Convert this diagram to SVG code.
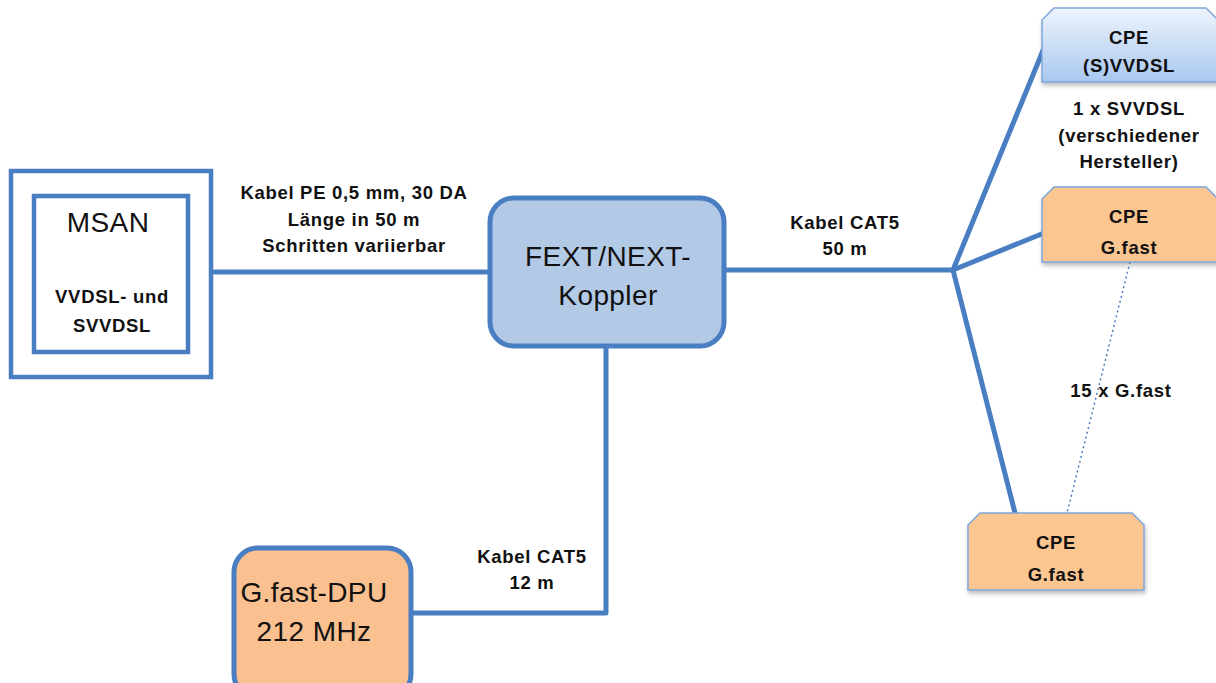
<svg xmlns="http://www.w3.org/2000/svg" width="1216" height="683" viewBox="0 0 1216 683">
<defs>
<linearGradient id="gBlue" x1="0" y1="0" x2="0" y2="1">
<stop offset="0" stop-color="#eef4fc"/>
<stop offset="1" stop-color="#a9c8ef"/>
</linearGradient>
<filter id="sh" x="-10%" y="-10%" width="130%" height="130%">
<feDropShadow dx="1" dy="3" stdDeviation="2" flood-color="#000" flood-opacity="0.25"/>
</filter>
</defs>
<style>
.wire{stroke:#4a7ec3;stroke-width:5;fill:none;stroke-linecap:round;stroke-linejoin:round}
.dot{stroke:#4a7ec3;stroke-width:1.5;fill:none;stroke-dasharray:2 3}
.frame{fill:#fff;stroke:#4a7ec3;stroke-width:4.5}
.t{font-family:"Liberation Sans",Arial,sans-serif;fill:#111;text-anchor:middle}
.b{font-weight:bold;font-size:18.5px;letter-spacing:0.7px}
.big{font-size:28px;letter-spacing:0.4px}
.cpe{stroke:#7ea7db;stroke-width:1.5}
</style>
<g id="connectors">
<line class="wire" x1="211" y1="272" x2="490" y2="272"/>
<line class="wire" x1="724" y1="270" x2="953" y2="270"/>
<line class="wire" x1="953" y1="270" x2="1044" y2="48"/>
<line class="wire" x1="953" y1="270" x2="1044" y2="233"/>
<line class="wire" x1="953" y1="270" x2="1015" y2="513"/>
<polyline class="wire" points="606,346 606,613 411,613"/>
<line class="dot" x1="1130" y1="262" x2="1067" y2="513"/>
</g>
<g id="msan">
<rect class="frame" x="11" y="171" width="200" height="206"/>
<rect class="frame" x="34" y="196" width="154" height="156"/>
<text class="t big" x="108" y="232">MSAN</text>
<text class="t b" x="112" y="303">VVDSL- und</text>
<text class="t b" x="112" y="332">SVVDSL</text>
</g>
<g id="label-pe">
<text class="t b" x="354" y="199">Kabel PE 0,5 mm, 30 DA</text>
<text class="t b" x="354" y="226">Länge in 50 m</text>
<text class="t b" x="354" y="252">Schritten variierbar</text>
</g>
<g id="koppler">
<rect x="490" y="198" width="234" height="148" rx="24" fill="#b3cae6" stroke="#4a7ec3" stroke-width="5"/>
<text class="t big" x="608" y="266">FEXT/NEXT-</text>
<text class="t big" x="608" y="305">Koppler</text>
</g>
<g id="label-cat5-50">
<text class="t b" x="845" y="229">Kabel CAT5</text>
<text class="t b" x="845" y="255">50 m</text>
</g>
<g id="dpu">
<rect x="234" y="548" width="177" height="150" rx="24" fill="#fac08f" stroke="#4a7ec3" stroke-width="5"/>
<text class="t big" x="314" y="602">G.fast-DPU</text>
<text class="t big" x="314" y="641">212 MHz</text>
</g>
<g id="label-cat5-12">
<text class="t b" x="532" y="563">Kabel CAT5</text>
<text class="t b" x="532" y="589">12 m</text>
</g>
<g id="cpe-vdsl">
<polygon class="cpe" points="1054,8 1206,8 1218,20 1218,82 1042,82 1042,20" fill="url(#gBlue)" filter="url(#sh)"/>
<text class="t b" x="1129" y="44">CPE</text>
<text class="t b" x="1129" y="72">(S)VVDSL</text>
</g>
<g id="label-svvdsl">
<text class="t b" x="1129" y="115">1 x SVVDSL</text>
<text class="t b" x="1129" y="142">(verschiedener</text>
<text class="t b" x="1129" y="168">Hersteller)</text>
</g>
<g id="cpe-gfast-1">
<polygon class="cpe" points="1054,187 1206,187 1218,199 1218,262 1042,262 1042,199" fill="#fbc690" filter="url(#sh)"/>
<text class="t b" x="1129" y="223">CPE</text>
<text class="t b" x="1129" y="254">G.fast</text>
</g>
<g id="label-15">
<text class="t b" x="1121" y="397">15 x G.fast</text>
</g>
<g id="cpe-gfast-2">
<polygon class="cpe" points="980,513 1132,513 1144,525 1144,590 968,590 968,525" fill="#fbc690" filter="url(#sh)"/>
<text class="t b" x="1056" y="549">CPE</text>
<text class="t b" x="1056" y="581">G.fast</text>
</g>
</svg>
